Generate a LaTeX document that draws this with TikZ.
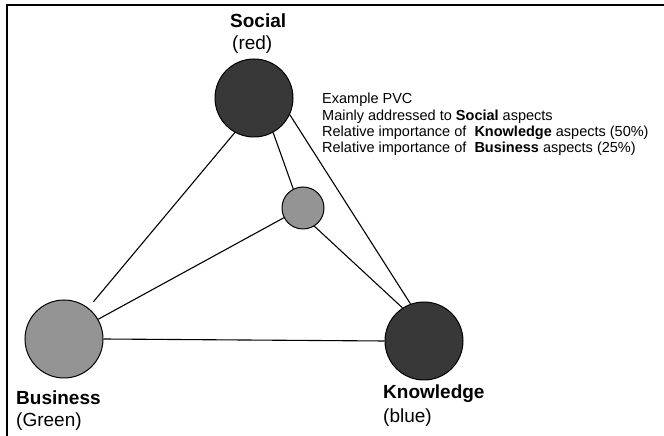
\documentclass[tikz,border=0pt]{standalone}
\usepackage{fontspec}
\setmainfont{Liberation Sans}
\begin{document}
\begin{tikzpicture}[x=1pt,y=1pt,
  aspect/.style={circle,draw=black,line width=1pt,inner sep=0pt,minimum size=78pt},
  strong/.style={aspect,fill=black!78},
  weak/.style={aspect,fill=black!42},
  mix/.style={circle,draw=black,line width=1pt,inner sep=0pt,minimum size=42pt,fill=black!42},
  link/.style={line width=1.1pt},
  head/.style={anchor=base west,inner sep=0pt,font=\fontsize{19}{22}\selectfont\bfseries},
  sub/.style={anchor=base west,inner sep=0pt,font=\fontsize{19}{22}\selectfont},
  note/.style={anchor=base west,inner sep=0pt,font=\fontsize{14.5}{16}\selectfont}]
\useasboundingbox (0,0) rectangle (664,436);

% open frame: top and left edges only
\coordinate (fa) at (7,0);
\coordinate (fb) at (7,431);
\coordinate (fc) at (664,431);
\draw[line width=1.4pt] (fa) -- (fb) -- (fc);

% the three aspects and the example value
\node[strong] (soc) at (254,338) {};
\node[weak]   (bus) at (64,97) {};
\node[strong] (kno) at (424,95) {};
\node[mix]    (pvc) at (303,228) {};

% connectors
\draw[link,shorten >=8pt] (soc.241) -- (bus.52);
\draw[link] (soc.-61) -- (pvc.117);
\draw[link] (soc.-25) -- (kno.110);
\draw[link] (pvc.207) -- (bus.30);
\draw[link] (pvc.-58) -- (kno.123);
\draw[link] (bus.east) -- (kno.west);

% labels
\node[head] (lsoc) at (230,408) {Social};
\node[sub]  (lsocc) at (232,386) {(red)};
\node[head] (lbus) at (16,31) {Business};
\node[sub]  (lbusc) at (16,9) {(Green)};
\node[head] (lkno) at (383,37) {Knowledge};
\node[sub]  (lknoc) at (383,13) {(blue)};

% description of the example
\node[note] (n1) at (322,332) {Example PVC};
\node[note] (n2) at (322,315.8) {Mainly addressed to \textbf{Social} aspects};
\node[note] (n3) at (322,299.6) {Relative importance of\ \ \textbf{Knowledge} aspects (50\%)};
\node[note] (n4) at (322,283.4) {Relative importance of\ \ \textbf{Business} aspects (25\%)};
\end{tikzpicture}
\end{document}
